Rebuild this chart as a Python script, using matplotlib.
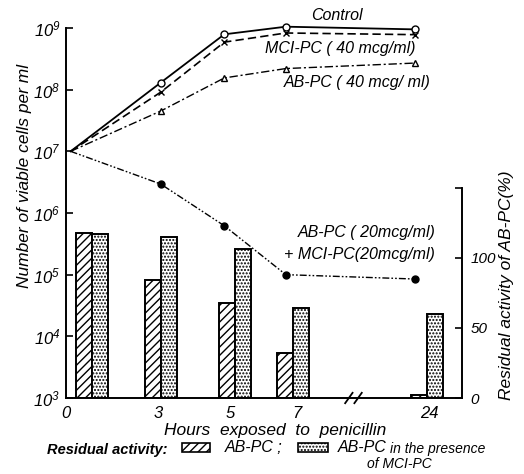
import matplotlib
matplotlib.use("Agg")
import matplotlib.pyplot as plt
import matplotlib.transforms as mtransforms
from matplotlib.patches import Rectangle
import numpy as np

plt.rcParams['font.family'] = ['Liberation Sans', 'DejaVu Sans']
plt.rcParams['font.style'] = 'italic'
plt.rcParams['mathtext.fontset'] = 'custom'
plt.rcParams['mathtext.rm'] = 'Liberation Sans:italic'
plt.rcParams['mathtext.it'] = 'Liberation Sans:italic'
plt.rcParams['hatch.linewidth'] = 1.0

# data
hours = ["0", "3", "5", "7", "24"]
control = [1.0e7, 1.3e8, 7.9e8, 1.05e9, 9.5e8]
mci_40 = [1.0e7, 9.1e7, 5.9e8, 8.3e8, 7.8e8]
abpc_40 = [1.0e7, 4.5e7, 1.55e8, 2.2e8, 2.7e8]
combo_20 = [1.0e7, 2.95e6, 6.2e5, 1.0e5, 8.5e4]
resid_abpc = [118, 84, 68, 32, 2]
resid_with_mci = [117, 115, 106, 64, 60]

# where each time point sits on the broken x axis
x_line = [0, 2.93, 5.0, 7.0, 11.2]
x_bar = [0.68, 2.93, 5.34, 7.23, 11.6]
x_tick = [-0.15, 2.86, 5.2, 7.35, 11.67]
bar_w = 0.52

fig = plt.figure(figsize=(5.24, 4.74), dpi=100)
ax = fig.add_axes([66/524, 76/474, 396/524, 370/474])
ax2 = ax.twinx()

# bars on the right (percent) axis
xb = np.array(x_bar)
ax2.bar(xb - bar_w/2, resid_abpc, bar_w, facecolor='white', edgecolor='black',
        hatch='////', linewidth=1.4)
ax2.bar(xb + bar_w/2, resid_with_mci, bar_w, facecolor='white', edgecolor='black',
        hatch='.....', linewidth=1.4)

# growth curves on the left (log) axis
ax.set_zorder(ax2.get_zorder() + 1)
ax.patch.set_visible(False)
ax.plot(x_line, control, '-', color='black', lw=1.3, marker='o', ms=5,
        mfc='white', markevery=slice(1, None), clip_on=False)
ax.plot(x_line, mci_40, '--', color='black', lw=1.2, marker='x', ms=4,
        markevery=slice(1, None), dashes=(5, 2.5), clip_on=False)
ax.plot(x_line, abpc_40, '-.', color='black', lw=1.0, marker='^', ms=5,
        mfc='white', markevery=slice(1, None), dashes=(6, 2, 1.5, 2))
ax.plot(x_line, combo_20, color='black', lw=1.0, marker='o', ms=5,
        markevery=slice(1, None), dashes=(5, 1.5, 1.2, 1.5, 1.2, 1.5))

ax.set_yscale('log')
ax.set_ylim(1e3, 1e9)
ax.set_xlim(0, 12.73)
decades = [3, 4, 5, 6, 7, 8, 9]
ax.set_yticks([10.0**d for d in decades])
ax.set_yticklabels([r'$10^{%d}$' % d for d in decades], fontsize=12)
ax.minorticks_off()
ax.tick_params(axis='y', direction='in', length=5, width=1.2, pad=4)
ax.set_xticks(x_tick)
ax.set_xticklabels(hours, fontsize=12)
ax.tick_params(axis='x', length=0, pad=6)
for s in ['top', 'right']:
    ax.spines[s].set_visible(False)
ax.spines['left'].set_linewidth(1.4)
ax.spines['bottom'].set_linewidth(1.4)

ax2.set_ylim(0, 264)
ax2.set_yticks([0, 50, 100, 150])
ax2.set_yticklabels(['0', '50', '100', ''], fontsize=11)
ax2.tick_params(axis='y', direction='in', length=5, width=1.2, pad=6)
for s in ['top', 'left', 'bottom']:
    ax2.spines[s].set_visible(False)
ax2.spines['right'].set_bounds(0, 150)
ax2.spines['right'].set_linewidth(1.4)

# axis break marks
trans = mtransforms.blended_transform_factory(ax.transData, ax.transAxes)
for xc in [9.05, 9.35]:
    ax.plot([xc - 0.12, xc + 0.12], [-0.014, 0.014], color='black', lw=1.3,
            transform=trans, clip_on=False)

# curve labels
def ftext(px, py, s, **kw):
    fig.text(px/524, 1 - py/474, s, **kw)

ftext(337, 15, 'Control', ha='center', va='center', fontsize=11.5)
ftext(340, 48, 'MCI-PC ( 40 mcg/ml)', ha='center', va='center', fontsize=11.5)
ftext(357, 83, 'AB-PC ( 40 mcg/ ml)', ha='center', va='center', fontsize=11.5)
ftext(367, 233, 'AB-PC ( 20mcg/ml)', ha='center', va='center', fontsize=11.5)
ftext(359, 254, '+ MCI-PC(20mcg/ml)', ha='center', va='center', fontsize=11.5)

ftext(25, 176, 'Number of viable cells per ml', rotation=90, ha='center',
      va='center', fontsize=12.5)
ftext(507, 285, 'Residual activity of AB-PC(%)', rotation=90, ha='center',
      va='center', fontsize=12.5)
ftext(275, 430, 'Hours  exposed  to  penicillin', ha='center', va='center',
      fontsize=12.5)

# legend at the bottom
ftext(107, 450, 'Residual activity:', ha='center', va='center', fontsize=10.5,
      fontweight='bold')
fig.patches.append(Rectangle((182/524, 1 - 452/474), 28/524, 9/474,
                             transform=fig.transFigure, facecolor='white',
                             edgecolor='black', hatch='////', lw=1.2))
ftext(225, 448, 'AB-PC ;', ha='left', va='center', fontsize=11.5)
fig.patches.append(Rectangle((298/524, 1 - 452/474), 30/524, 9/474,
                             transform=fig.transFigure, facecolor='white',
                             edgecolor='black', hatch='.....', lw=1.2))
ftext(338, 448, 'AB-PC', ha='left', va='center', fontsize=11.5)
ftext(390, 449, 'in the presence', ha='left', va='center', fontsize=10)
ftext(367, 464, 'of MCI-PC', ha='left', va='center', fontsize=10)

fig.savefig('out.png', dpi=100)
